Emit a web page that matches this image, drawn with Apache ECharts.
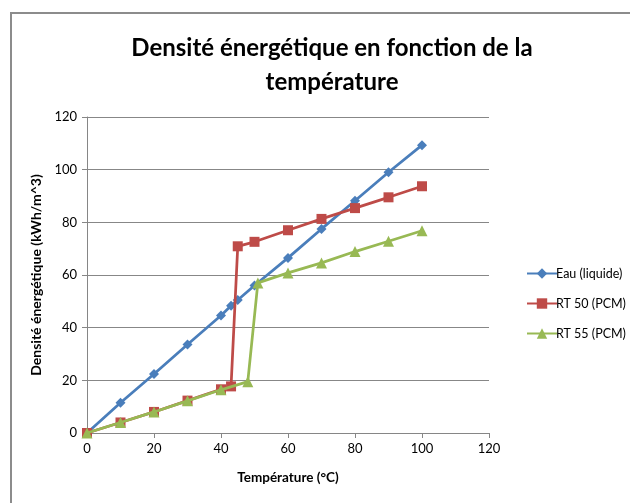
<!DOCTYPE html>
<html>
<head>
<meta charset="utf-8">
<script src="https://cdn.jsdelivr.net/npm/echarts@6/dist/echarts.min.js"></script>
<style>
html,body{margin:0;padding:0;background:#fff;}
#frame{position:absolute;left:10px;top:12px;width:640px;height:520px;border:2px solid #8c8c8c;box-sizing:border-box;}
#chart{position:absolute;left:0;top:0;width:630px;height:503px;}
</style>
</head>
<body>
<div id="frame"></div>
<div id="chart"></div>
<script>
const titleText = "Densité énergétique en fonction de la\ntempérature";
const xAxisName = "Température (°C)";
const yAxisName = "Densité énergétique (kWh/m^3)";
const seriesNames = ["Eau (liquide)", "RT 50 (PCM)", "RT 55 (PCM)"];

const eauX = [0, 10, 20, 30, 40, 43, 45, 50, 60, 70, 80, 90, 100];
const eauY = [0, 11.5, 22.4, 33.6, 44.6, 48.3, 50.5, 56, 66.5, 77.5, 88.2, 99, 109.3];

const rt50X = [0, 10, 20, 30, 40, 43, 45, 50, 60, 70, 80, 90, 100];
const rt50Y = [0, 4, 8, 12.3, 16.6, 17.7, 70.9, 72.6, 77, 81.3, 85.4, 89.5, 93.7];

const rt55X = [0, 10, 20, 30, 40, 48, 51, 60, 70, 80, 90, 100];
const rt55Y = [0, 4, 8, 12.2, 16.4, 19.5, 57, 60.8, 64.6, 68.9, 72.8, 76.8];

const xTicks = [0, 20, 40, 60, 80, 100, 120];
const yTicks = [0, 20, 40, 60, 80, 100, 120];

function pairs(xs, ys) { return xs.map((x, i) => [x, ys[i]]); }

const colors = ["#4A7EBB", "#BE4B48", "#98B954"];
const symbols = ["diamond", "rect", "triangle"];
const symbolSizes = [10, 10, 11];

const chart = echarts.init(document.getElementById("chart"), null, {renderer: "canvas"});
const font = "Lato, 'Open Sans', sans-serif";

chart.setOption({
  animation: false,
  backgroundColor: "transparent",
  title: {
    text: titleText,
    left: 327,
    top: 26,
    textAlign: "center",
    textStyle: {fontFamily: font, fontSize: 24, fontWeight: "bold", color: "#000", lineHeight: 34}
  },
  legend: {
    orient: "vertical",
    left: 521,
    top: 262,
    itemGap: 17,
    itemWidth: 30,
    itemHeight: 13,
    textStyle: {fontFamily: font, fontSize: 12.5, color: "#000", padding: [0, 0, 0, -6]},
    data: seriesNames
  },
  grid: {left: 87, right: 141, top: 117, bottom: 70, containLabel: false},
  xAxis: {
    type: "value",
    min: 0, max: 120, interval: 20,
    name: xAxisName,
    nameLocation: "middle",
    nameGap: 38,
    nameTextStyle: {fontFamily: font, fontSize: 13.5, fontWeight: "bold", color: "#000"},
    axisLine: {show: true, lineStyle: {color: "#868686", width: 1}},
    axisTick: {show: true, length: 5, lineStyle: {color: "#868686"}},
    axisLabel: {fontFamily: font, fontSize: 13, color: "#000", margin: 9,
      formatter: v => xTicks.includes(v) ? String(v) : ""},
    splitLine: {show: false}
  },
  yAxis: {
    type: "value",
    min: 0, max: 120, interval: 20,
    name: yAxisName,
    nameLocation: "middle",
    nameGap: 40,
    nameTextStyle: {fontFamily: font, fontSize: 14, fontWeight: "bold", color: "#000"},
    axisLine: {show: true, lineStyle: {color: "#868686", width: 1}},
    axisTick: {show: true, length: 5, lineStyle: {color: "#868686"}},
    axisLabel: {fontFamily: font, fontSize: 13, color: "#000", margin: 10,
      formatter: v => yTicks.includes(v) ? String(v) : ""},
    splitLine: {show: true, lineStyle: {color: "#878787", width: 1}}
  },
  series: [
    {name: seriesNames[0], type: "line", data: pairs(eauX, eauY)},
    {name: seriesNames[1], type: "line", data: pairs(rt50X, rt50Y)},
    {name: seriesNames[2], type: "line", data: pairs(rt55X, rt55Y)}
  ].map((s, i) => Object.assign(s, {
    color: colors[i],
    symbol: symbols[i],
    symbolSize: symbolSizes[i],
    showAllSymbol: true,
    lineStyle: {width: 2.75, color: colors[i]},
    itemStyle: {color: colors[i]},
    z: 2 + i
  }))
});
</script>
</body>
</html>
